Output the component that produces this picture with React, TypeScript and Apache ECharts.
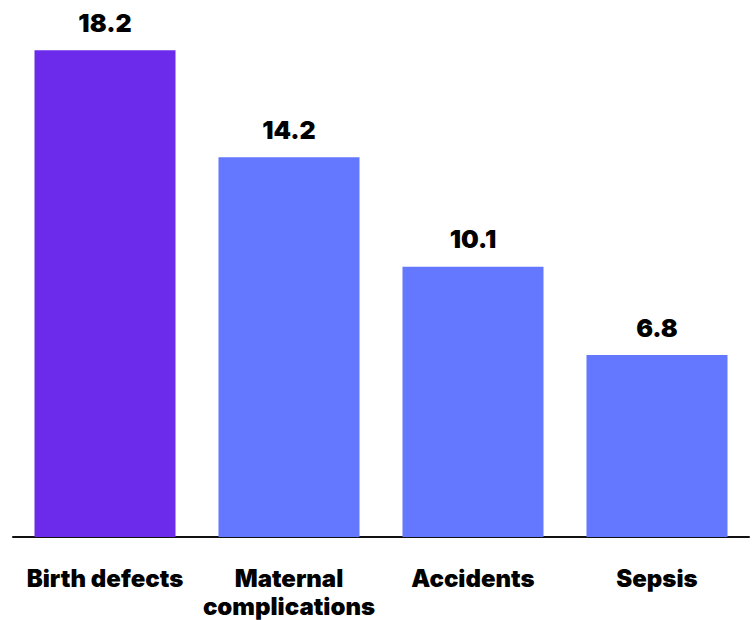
import React, { useEffect, useRef } from "react";
import * as echarts from "echarts";

const categories = ["Birth defects", "Maternal\ncomplications", "Accidents", "Sepsis"];
const values = [18.2, 14.2, 10.1, 6.8];
const barColors = ["#6c2aea", "#6477ff", "#6477ff", "#6477ff"];

const FONT = "Inter, 'Liberation Sans', Arial, sans-serif";

export default function App() {
  const ref = useRef<HTMLDivElement>(null);

  useEffect(() => {
    document.body.style.margin = "0";
    const chart = echarts.init(ref.current!, null, { renderer: "svg" });
    chart.setOption({
      animation: false,
      grid: { left: 13, right: 7, top: 2, bottom: 82, containLabel: false },
      xAxis: {
        type: "category",
        data: categories,
        axisLine: { show: true, lineStyle: { color: "#111111", width: 2 } },
        axisTick: { show: false },
        axisLabel: {
          interval: 0,
          margin: 27,
          color: "#000000",
          fontFamily: FONT,
          fontWeight: 900,
          fontSize: 24,
          lineHeight: 28,
        },
      },
      yAxis: {
        type: "value",
        min: 0,
        max: 20,
        show: false,
        splitLine: { show: false },
      },
      series: [
        {
          type: "bar",
          barWidth: 141,
          data: values.map((v, i) => ({ value: v, itemStyle: { color: barColors[i] } })),
          label: {
            show: true,
            position: "top",
            distance: 15,
            color: "#000000",
            fontFamily: FONT,
            fontWeight: 900,
            fontSize: 25,
          },
        },
      ],
    });
    return () => chart.dispose();
  }, []);

  return (
    <div
      ref={ref}
      style={{ position: "absolute", left: 0, top: 0, width: 756, height: 620, background: "#ffffff" }}
    />
  );
}
